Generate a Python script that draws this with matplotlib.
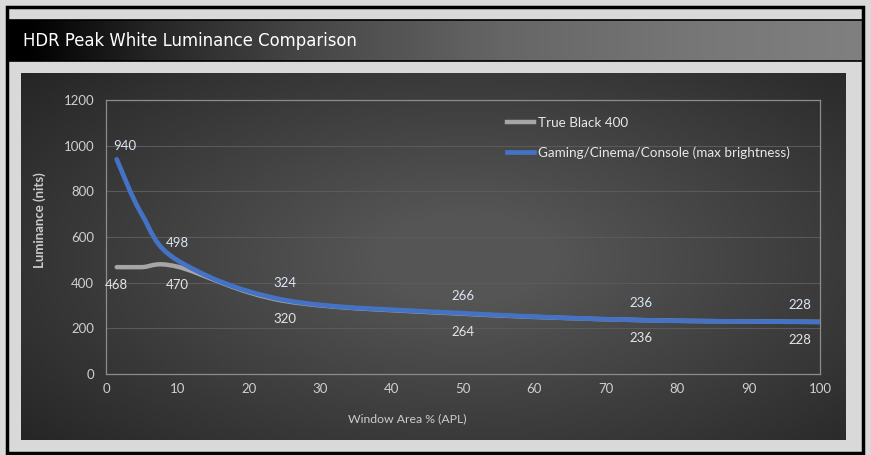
import numpy as np
import matplotlib
matplotlib.use("Agg")
import matplotlib.pyplot as plt
from matplotlib.path import Path
from matplotlib.patches import PathPatch, Rectangle
from matplotlib.colors import LinearSegmentedColormap

# window sizes (% APL) and luminance readings (nits)
window = [1.5, 5, 10, 25, 50, 75, 100]
true_black = [468, 468, 470, 320, 264, 236, 228]
gaming = [940, 700, 498, 324, 266, 236, 228]
labelled = [0, 2, 3, 4, 5, 6]  # points that carry a value label

series_names = ['True Black 400', 'Gaming/Cinema/Console (max brightness)']
title = 'HDR Peak White Luminance Comparison'
x_ticks = list(range(0, 101, 10))
y_ticks = list(range(0, 1201, 200))

W, H = 871, 455
BLUE = '#4472c4'
GREY = '#a6a6a6'


def smooth_path(xs, ys):
    # catmull-rom style bezier through the points (like excel "smoothed line")
    pts = np.column_stack([xs, ys]).astype(float)
    verts = [pts[0]]
    codes = [Path.MOVETO]
    n = len(pts)
    for i in range(n - 1):
        p0 = pts[max(i - 1, 0)]
        p1 = pts[i]
        p2 = pts[i + 1]
        p3 = pts[min(i + 2, n - 1)]
        c1 = p1 + (p2 - p0) / 6.0
        c2 = p2 - (p3 - p1) / 6.0
        verts += [c1, c2, p2]
        codes += [Path.CURVE4] * 3
    return Path(verts, codes)


fig = plt.figure(figsize=(W / 100, H / 100), dpi=100)
fig.patch.set_facecolor('#d9d9d9')

# background layer in pixel coordinates
bg = fig.add_axes([0, 0, 1, 1])
bg.set_xlim(0, W)
bg.set_ylim(H, 0)
bg.axis('off')

# title bar with horizontal gradient
grad = np.linspace(0, 1, 512).reshape(1, -1)
title_cmap = LinearSegmentedColormap.from_list(
    't', [(0, '#000000'), (0.02, '#000000'), (0.17, '#262626'), (0.34, '#454545'),
          (0.58, '#666666'), (0.81, '#777777'), (1, '#808080')])
bg.imshow(grad, cmap=title_cmap, extent=(7, 863, 61, 20), aspect='auto', zorder=1)
bg.plot([7, 863], [20, 20], color='black', lw=1.2, zorder=2)
bg.plot([7, 863], [61, 61], color='black', lw=1.2, zorder=2)
bg.text(23, 41.5, title, color='white', fontsize=11.9, family='DejaVu Sans',
        va='center', ha='left', zorder=3)

# chart panel with radial gradient
yy, xx = np.mgrid[0:120, 0:260]
r = np.sqrt(((xx - 140) / 190.0) ** 2 + ((yy - 60) / 95.0) ** 2)
panel = np.clip(1 - r, 0, 1)
bg.imshow(panel, cmap=LinearSegmentedColormap.from_list('p', ['#242424', '#555555']),
          extent=(21, 845, 440, 73), aspect='auto', zorder=1, vmin=0, vmax=0.85)

# outer frame
bg.add_patch(Rectangle((7, 7), 856, 446, fill=False, ec='black', lw=2.5, zorder=4))

# plot area
ax = fig.add_axes([106 / W, 1 - 374 / H, (820 - 106) / W, (374 - 100) / H])
ax.set_facecolor('none')
ax.set_xlim(0, 100)
ax.set_ylim(0, 1200)
ax.set_xticks(x_ticks)
ax.set_yticks(y_ticks)
for s in ax.spines.values():
    s.set_color('#8c8c8c')
    s.set_linewidth(0.9)
ax.grid(axis='y', color='#5a5a5a', lw=0.8)
ax.set_axisbelow(True)
ax.tick_params(length=0, colors='#cfcfcf', labelsize=9.5)
ax.tick_params(axis='x', pad=6.5)
ax.tick_params(axis='y', pad=8.5)
for lab in ax.get_xticklabels() + ax.get_yticklabels():
    lab.set_family('Lato')

ax.add_patch(PathPatch(smooth_path(window, true_black), fill=False, ec=GREY, lw=3.2,
                       capstyle='round', zorder=3))
ax.add_patch(PathPatch(smooth_path(window, gaming), fill=False, ec=BLUE, lw=3.4,
                       capstyle='round', zorder=4))

for i in labelled:
    dx = 8 if i == 0 else (-20 if i == len(window) - 1 else 0)
    ax.annotate(str(gaming[i]), (window[i], gaming[i]), xytext=(dx, 13 if i == 0 else 17),
                textcoords='offset pixels', ha='center', va='center',
                color='#dde6f5', fontsize=9.5, family='Lato', zorder=5, annotation_clip=False)
    ax.annotate(str(true_black[i]), (window[i], true_black[i]), xytext=(dx if i else 0, -18),
                textcoords='offset pixels', ha='center', va='center',
                color='#e6e6e6', fontsize=9.5, family='Lato', zorder=5, annotation_clip=False)

# legend
h1, = ax.plot([], [], color=GREY, lw=3.2)
h2, = ax.plot([], [], color=BLUE, lw=3.4)
leg = ax.legend([h1, h2], series_names, loc='upper left', bbox_to_anchor=(507 / W, 1 - 117 / H),
                bbox_transform=fig.transFigure, frameon=False, handlelength=2.0,
                handletextpad=0.3, labelspacing=1.3, borderpad=0, borderaxespad=0,
                prop={'family': 'Lato', 'size': 9.7})
for t in leg.get_texts():
    t.set_color('#e8e8e8')

fig.text(407 / W, 1 - 419 / H, 'Window Area % (APL)', color='#cccccc', fontsize=8.8,
         family='Lato', ha='center', va='center')
fig.text(40 / W, 1 - 220 / H, 'Luminance (nits)', color='#cccccc', fontsize=9.5,
         family='Lato', ha='center', va='center', rotation=90, weight='bold')

fig.savefig('out.png', dpi=100, facecolor=fig.get_facecolor())
